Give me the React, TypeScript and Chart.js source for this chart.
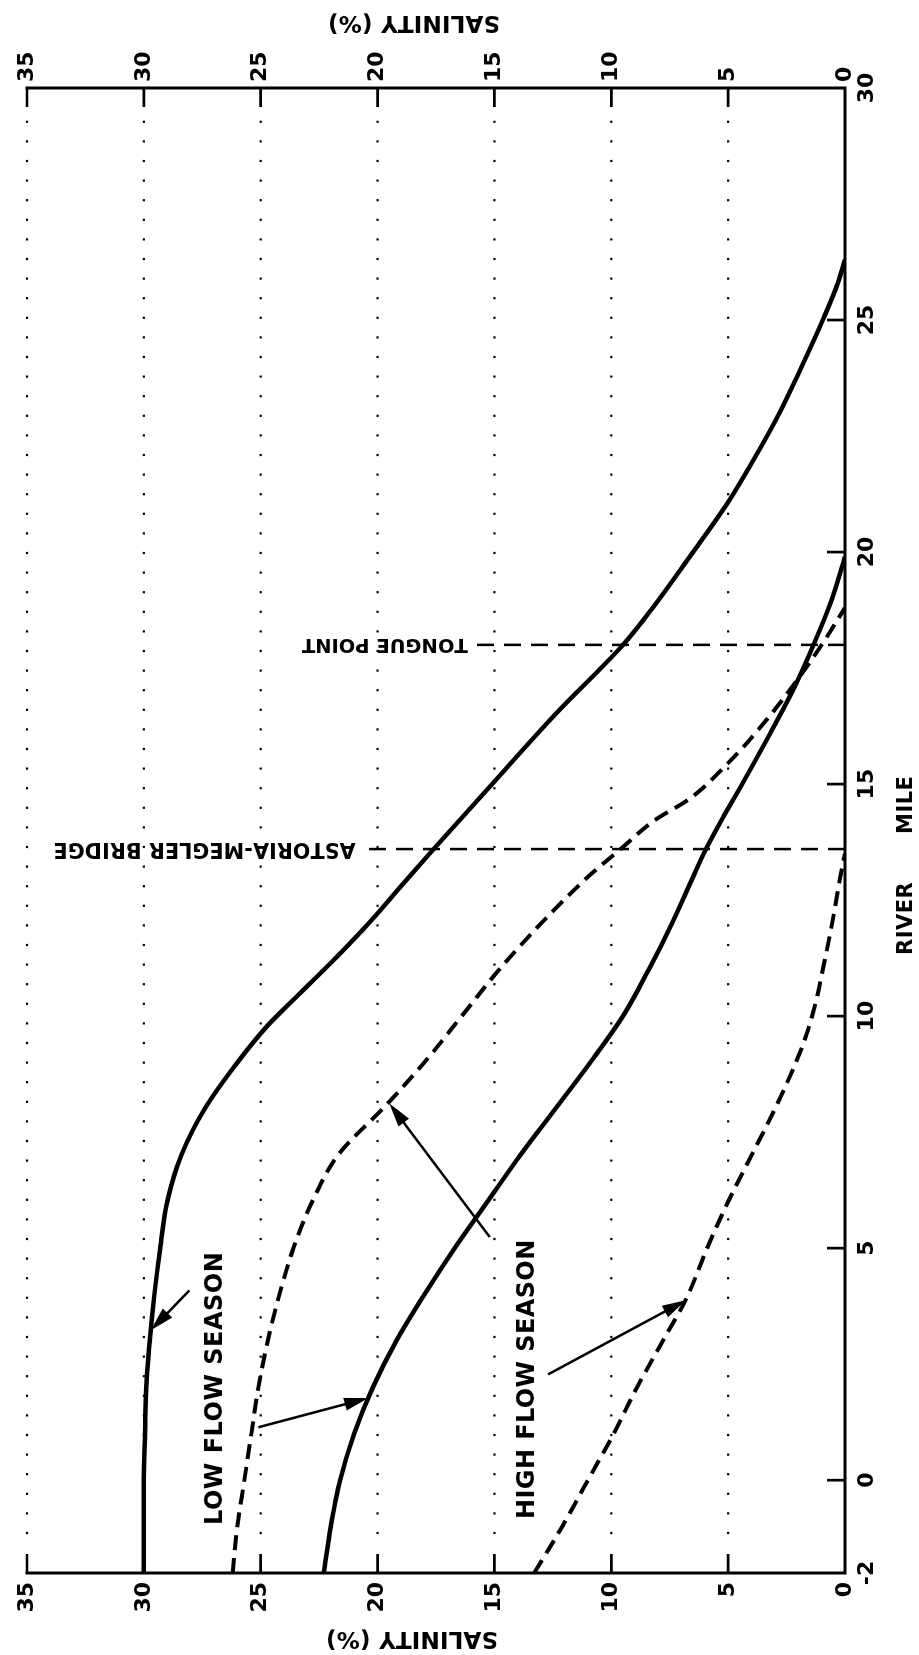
import { useEffect, useRef } from 'react';
import { Chart, registerables } from 'chart.js';

Chart.register(...registerables);

// Axis ticks
const mileTicks = [-2, 0, 5, 10, 15, 20, 25, 30];
const salinityTicks = [0, 5, 10, 15, 20, 25, 30, 35];

// Low flow season (solid curves)
const lowFlowUpperMile = [-2, 0, 1, 2, 3, 4, 5, 6, 7, 8, 9, 9.8, 10.5, 11.3, 12.1, 12.8, 13.6, 15, 16.5, 18, 18.75, 20, 21, 22, 23, 24, 25, 25.8, 26.3];
const lowFlowUpperSal = [30.0, 30.0, 29.95, 29.9, 29.75, 29.55, 29.3, 29.0, 28.4, 27.4, 26.0, 24.7, 23.3, 21.7, 20.2, 19.0, 17.6, 15.1, 12.4, 9.5, 8.3, 6.5, 5.1, 3.9, 2.8, 1.85, 0.95, 0.3, 0];

const lowFlowLowerMile = [-2, -1, 0, 1, 2, 3, 4, 5, 6, 7, 8, 9, 10, 11, 12, 13, 13.6, 14.3, 15, 16, 17, 18, 19, 19.9];
const lowFlowLowerSal = [22.3, 22.0, 21.6, 21.0, 20.2, 19.2, 18.0, 16.7, 15.3, 13.9, 12.4, 10.9, 9.5, 8.4, 7.4, 6.5, 5.95, 5.2, 4.4, 3.3, 2.25, 1.35, 0.55, 0];

// High flow season (dashed curves)
const highFlowUpperMile = [-2, -1, 0, 1, 2, 3, 4, 5, 6, 7, 8.1, 9, 10, 11, 12, 13, 13.6, 14.2, 14.7, 15.3, 16, 17, 18, 18.8];
const highFlowUpperSal = [26.2, 26.0, 25.7, 25.4, 25.1, 24.7, 24.2, 23.6, 22.8, 21.7, 19.6, 18.0, 16.4, 14.8, 13.0, 11.0, 9.6, 8.2, 6.6, 5.3, 4.0, 2.4, 1.0, 0];

const highFlowLowerMile = [-2, -1, 0, 1, 2, 3, 3.9, 5, 6, 7, 8, 9, 9.6, 10.2, 11, 12, 13, 13.5];
const highFlowLowerSal = [13.3, 12.1, 11.0, 9.9, 8.9, 7.8, 6.8, 5.9, 5.0, 4.0, 3.0, 2.1, 1.65, 1.3, 0.95, 0.55, 0.2, 0];

// Landmarks along the river
const landmarkNames = ['ASTORIA-MEGLER BRIDGE', 'TONGUE POINT'];
const landmarkMiles = [13.6, 18.0];
const landmarkReach = [20.6, 15.8];

// Arrows from the season labels to the curves: [mile, salinity] tail -> tip
const arrowTails = [[4.09, 28.05], [1.14, 25.1], [5.24, 15.2], [2.28, 12.7]];
const arrowTips = [[3.23, 29.7], [1.77, 20.4], [8.12, 19.5], [3.88, 6.8]];

const FONT = "'DejaVu Sans', 'Liberation Sans', sans-serif";
const W = 1655;
const H = 919;

const pts = (m: number[], s: number[]) => m.map((v, i) => ({ x: v, y: s[i] }));

function setSpacing(ctx: CanvasRenderingContext2D, px: number) {
  if ('letterSpacing' in ctx) (ctx as any).letterSpacing = `${px}px`;
}

function drawArrow(ctx: CanvasRenderingContext2D, x1: number, y1: number, x2: number, y2: number) {
  const ang = Math.atan2(y2 - y1, x2 - x1);
  const len = 24;
  const half = 6.5;
  const bx = x2 - Math.cos(ang) * len;
  const by = y2 - Math.sin(ang) * len;
  ctx.beginPath();
  ctx.moveTo(x1, y1);
  ctx.lineTo(bx + Math.cos(ang) * 4, by + Math.sin(ang) * 4);
  ctx.lineWidth = 2.5;
  ctx.stroke();
  ctx.beginPath();
  ctx.moveTo(x2, y2);
  ctx.lineTo(bx - Math.sin(ang) * half, by + Math.cos(ang) * half);
  ctx.lineTo(bx + Math.sin(ang) * half, by - Math.cos(ang) * half);
  ctx.closePath();
  ctx.fill();
}

const decorPlugin = {
  id: 'decor',
  beforeDraw(chart: any) {
    const { ctx } = chart;
    ctx.save();
    ctx.fillStyle = '#fff';
    ctx.fillRect(0, 0, chart.width, chart.height);
    ctx.restore();
  },
  beforeDatasetsDraw(chart: any) {
    const { ctx, chartArea: a, scales } = chart;
    const x = scales.x;
    const y = scales.y;
    ctx.save();
    ctx.fillStyle = '#000';
    // dotted salinity grid
    for (const s of salinityTicks) {
      if (s === 0) continue;
      const py = y.getPixelForValue(s);
      for (let px = a.left + 40; px < a.right - 20; px += 19.6) {
        ctx.fillRect(px - 1.1, py - 1.1, 2.2, 2.2);
      }
    }
    // landmark dashed lines and names
    ctx.strokeStyle = '#000';
    ctx.lineWidth = 2.5;
    ctx.setLineDash([17, 10]);
    landmarkMiles.forEach((m, i) => {
      const px = x.getPixelForValue(m);
      const top = y.getPixelForValue(landmarkReach[i]);
      ctx.beginPath();
      ctx.moveTo(px, y.getPixelForValue(0));
      ctx.lineTo(px, top);
      ctx.stroke();
    });
    ctx.setLineDash([]);
    landmarkMiles.forEach((m, i) => {
      const px = x.getPixelForValue(m);
      const top = y.getPixelForValue(landmarkReach[i]);
      ctx.save();
      ctx.translate(px, top - 8);
      ctx.rotate(-Math.PI / 2);
      ctx.font = `bold ${i === 0 ? 20.5 : 19.5}px ${FONT}`;
      setSpacing(ctx, i === 0 ? 0.2 : 0);
      ctx.textAlign = 'left';
      ctx.textBaseline = 'middle';
      ctx.fillText(landmarkNames[i], 0, 1);
      ctx.restore();
    });
    ctx.restore();
  },
  afterDatasetsDraw(chart: any) {
    const { ctx, chartArea: a, scales } = chart;
    const x = scales.x;
    const y = scales.y;
    ctx.save();
    ctx.strokeStyle = '#000';
    ctx.fillStyle = '#000';
    // frame (open on the 35 side)
    ctx.lineWidth = 3;
    ctx.lineCap = 'square';
    ctx.beginPath();
    ctx.moveTo(a.left, a.top);
    ctx.lineTo(a.left, a.bottom);
    ctx.lineTo(a.right, a.bottom);
    ctx.lineTo(a.right, a.top);
    ctx.stroke();
    // inward tick marks
    ctx.lineWidth = 2.7;
    ctx.lineCap = 'butt';
    ctx.beginPath();
    for (const s of salinityTicks) {
      if (s === 0) continue;
      const py = y.getPixelForValue(s);
      ctx.moveTo(a.left, py);
      ctx.lineTo(a.left + 19, py);
      ctx.moveTo(a.right, py);
      ctx.lineTo(a.right - 19, py);
    }
    for (const m of mileTicks) {
      if (m === -2 || m === 30) continue;
      const px = x.getPixelForValue(m);
      ctx.moveTo(px, a.bottom);
      ctx.lineTo(px, a.bottom - 18);
    }
    ctx.stroke();

    // arrows
    arrowTails.forEach((t, i) => {
      const tip = arrowTips[i];
      drawArrow(ctx, x.getPixelForValue(t[0]), y.getPixelForValue(t[1]), x.getPixelForValue(tip[0]), y.getPixelForValue(tip[1]));
    });

    // season labels
    ctx.textBaseline = 'middle';
    ctx.textAlign = 'left';
    ctx.font = `bold 24px ${FONT}`;
    setSpacing(ctx, 0.5);
    ctx.fillText('LOW FLOW SEASON', 130, 216);
    setSpacing(ctx, 0.4);
    ctx.fillText('HIGH FLOW SEASON', 136, 528);

    // axis titles
    ctx.font = `bold 21px ${FONT}`;
    setSpacing(ctx, 0.5);
    ctx.fillText('RIVER', 700, 907);
    ctx.fillText('MILE', 821, 907);

    ctx.font = `bold 23px ${FONT}`;
    setSpacing(ctx, 0.2);
    ctx.textAlign = 'center';
    for (const [tx, ty] of [[17, 412], [W - 22, 414]]) {
      ctx.save();
      ctx.translate(tx, ty);
      ctx.rotate(-Math.PI / 2);
      ctx.fillText('SALINITY (%)', 0, 0);
      ctx.restore();
    }
    ctx.restore();
  },
};

export default function App() {
  const ref = useRef<HTMLCanvasElement | null>(null);

  useEffect(() => {
    if (!ref.current) return;
    const tickFont = { family: FONT, size: 22, weight: 'bold' as const };
    const solid = { borderColor: '#000', borderWidth: 4.5, pointRadius: 0, fill: false, cubicInterpolationMode: 'monotone' as const };
    const dashed = { ...solid, borderWidth: 4, borderDash: [15, 8] };
    const chart = new Chart(ref.current, {
      type: 'line',
      data: {
        datasets: [
          { ...solid, label: 'Low flow upper', data: pts(lowFlowUpperMile, lowFlowUpperSal) },
          { ...solid, label: 'Low flow lower', data: pts(lowFlowLowerMile, lowFlowLowerSal) },
          { ...dashed, label: 'High flow upper', data: pts(highFlowUpperMile, highFlowUpperSal) },
          { ...dashed, label: 'High flow lower', data: pts(highFlowLowerMile, highFlowLowerSal) },
        ],
      },
      options: {
        responsive: false,
        animation: false,
        devicePixelRatio: 1,
        layout: { padding: { top: 27, left: 0, right: 0, bottom: 0 } },
        plugins: { legend: { display: false }, tooltip: { enabled: false } },
        scales: {
          x: {
            type: 'linear',
            position: 'bottom',
            min: -2,
            max: 30,
            afterBuildTicks: (s: any) => { s.ticks = mileTicks.map((v) => ({ value: v })); },
            afterFit: (s: any) => { s.height = 74; },
            grid: { display: false, drawTicks: false },
            border: { display: false },
            ticks: { color: '#000', font: tickFont, padding: 9, autoSkip: false, maxRotation: 0, minRotation: 0 },
          },
          y: {
            type: 'linear',
            position: 'left',
            min: 0,
            max: 35,
            afterBuildTicks: (s: any) => { s.ticks = salinityTicks.map((v) => ({ value: v })); },
            afterFit: (s: any) => { s.width = 82; },
            grid: { display: false, drawTicks: false },
            border: { display: false },
            ticks: { color: '#000', font: tickFont, padding: 9, autoSkip: false },
          },
          y2: {
            type: 'linear',
            position: 'right',
            display: true,
            min: 0,
            max: 35,
            afterBuildTicks: (s: any) => { s.ticks = salinityTicks.map((v) => ({ value: v })); },
            afterFit: (s: any) => { s.width = 88; },
            grid: { display: false, drawTicks: false },
            border: { display: false },
            ticks: { color: '#000', font: tickFont, padding: 6, autoSkip: false },
          },
        },
      },
      plugins: [decorPlugin],
    } as any);
    return () => chart.destroy();
  }, []);

  return (
    <div style={{ position: 'absolute', left: 0, top: 0, width: 919, height: 1655, overflow: 'hidden', background: '#fff' }}>
      <div
        style={{
          position: 'absolute',
          left: (919 - W) / 2,
          top: (1655 - H) / 2,
          width: W,
          height: H,
          transform: 'rotate(-90deg)',
          transformOrigin: '50% 50%',
        }}
      >
        <canvas ref={ref} width={W} height={H} style={{ display: 'block', width: W, height: H }} />
      </div>
    </div>
  );
}
